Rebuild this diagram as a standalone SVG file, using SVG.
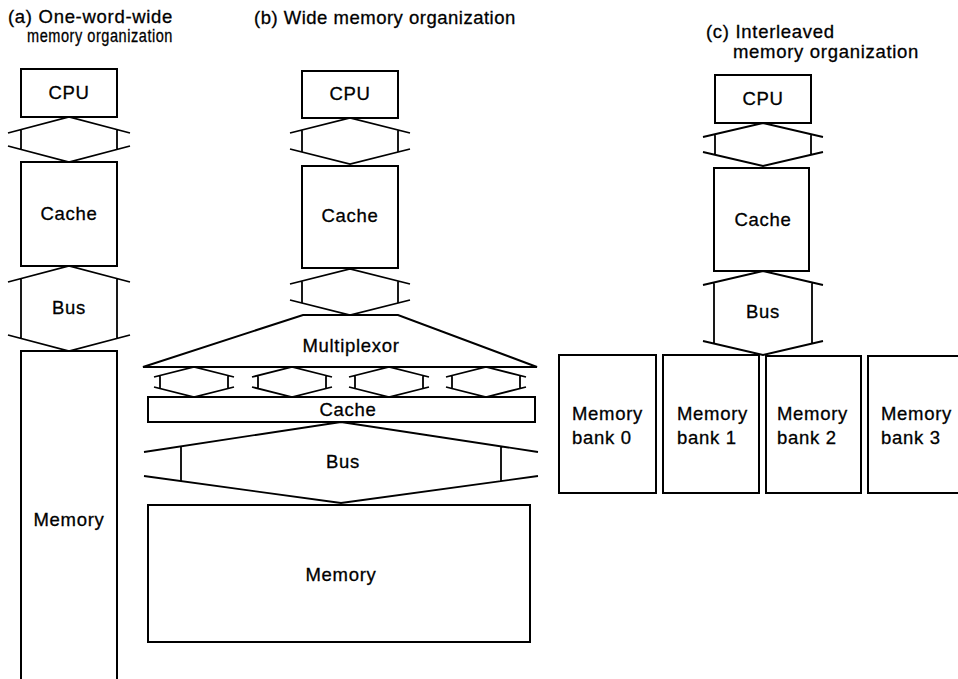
<svg xmlns="http://www.w3.org/2000/svg" width="958" height="679" viewBox="0 0 958 679">
  <style>
    .box { fill: #ffffff; stroke: #000000; stroke-width: 2; }
    .link { fill: none; stroke: #000000; stroke-width: 1.8; stroke-linejoin: miter; }
    text { font-family: "Liberation Sans", Arial, sans-serif; font-size: 18.5px; fill: #000000; stroke: #000000; stroke-width: 0.3px; letter-spacing: 0.7px; }
    .mid { text-anchor: middle; }
  </style>
  <rect width="958" height="679" fill="#ffffff"/>

  <!-- captions -->
  <g id="captions">
    <text x="8" y="23">(a) One-word-wide</text>
    <text x="27" y="42" textLength="146" lengthAdjust="spacingAndGlyphs">memory organization</text>
    <text x="254" y="24" textLength="262">(b) Wide memory organization</text>
    <text x="706" y="38">(c) Interleaved</text>
    <text x="733" y="58">memory organization</text>
  </g>

  <!-- (a) one-word-wide organization -->
  <g id="a-cpu"><rect class="box" x="21" y="69" width="96" height="48"/><text class="mid" x="69" y="99">CPU</text></g>
  <g id="a-cache"><rect class="box" x="21" y="162" width="96" height="104"/><text class="mid" x="69" y="220">Cache</text></g>
  <g id="a-memory"><rect class="box" x="21" y="351" width="96" height="340"/><text class="mid" x="69" y="526">Memory</text></g>
  <g id="a-bus-label"><text class="mid" x="69" y="314">Bus</text></g>

  <!-- (b) wide organization -->
  <g id="b-cpu"><rect class="box" x="302" y="71" width="96" height="47"/><text class="mid" x="350" y="100">CPU</text></g>
  <g id="b-cache"><rect class="box" x="302" y="166" width="96" height="102"/><text class="mid" x="350" y="222">Cache</text></g>
  <g id="b-mux"><path class="box" d="M303,315 L398,315 L537,367 L143,367 Z"/><text class="mid" x="351" y="352">Multiplexor</text></g>
  <g id="b-wide-cache"><rect class="box" x="148" y="397" width="387" height="25"/><text class="mid" x="348" y="416">Cache</text></g>
  <g id="b-memory"><rect class="box" x="148" y="505" width="382" height="137"/><text class="mid" x="341" y="581">Memory</text></g>
  <g id="b-bus-label"><text class="mid" x="343" y="468">Bus</text></g>

  <!-- (c) interleaved organization -->
  <g id="c-cpu"><rect class="box" x="715" y="75" width="96" height="48"/><text class="mid" x="763" y="105">CPU</text></g>
  <g id="c-cache"><rect class="box" x="714" y="168" width="95" height="103"/><text class="mid" x="763" y="226">Cache</text></g>
  <g id="c-bus-label"><text class="mid" x="763" y="318">Bus</text></g>
  <g id="c-bank0"><rect class="box" x="559" y="355" width="97" height="138"/><text x="572" y="420">Memory</text><text x="572" y="444">bank 0</text></g>
  <g id="c-bank1"><rect class="box" x="663" y="355" width="96" height="138"/><text x="677" y="420">Memory</text><text x="677" y="444">bank 1</text></g>
  <g id="c-bank2"><rect class="box" x="766" y="356" width="95" height="137"/><text x="777" y="420">Memory</text><text x="777" y="444">bank 2</text></g>
  <g id="c-bank3"><rect class="box" x="868" y="356" width="100" height="137"/><text x="881" y="420">Memory</text><text x="881" y="444">bank 3</text></g>

  <!-- double-headed bus connectors -->
  <g id="connectors" class="link">
    <!-- (a) CPU-Cache -->
    <path d="M8,133 L69,117 L130,133 M8,146 L69,162 L130,146 M21,129.6 V149.4 M117,129.6 V149.4"/>
    <!-- (a) Cache-Memory bus -->
    <path d="M8,282 L69,266 L130,282 M8,335 L69,351 L130,335 M21,278.6 V338.4 M117,278.6 V338.4"/>
    <!-- (b) CPU-Cache -->
    <path d="M290,133 L350,118 L410,133 M290,149 L350,164 L410,149 M302,130 V152 M398,130 V152"/>
    <!-- (b) Cache-Multiplexor -->
    <path d="M290,284 L350,269 L410,284 M290,300 L350,315 L410,300 M302,281 V303 M398,281 V303"/>
    <!-- (b) Multiplexor-wide cache, four words -->
    <path d="M154,377 L194,367 L234,377 M154,387 L194,397 L234,387 M160,375.5 V388.5 M228,375.5 V388.5"/>
    <path d="M252,377 L292,367 L332,377 M252,387 L292,397 L332,387 M258,375.5 V388.5 M326,375.5 V388.5"/>
    <path d="M349,377 L389,367 L429,377 M349,387 L389,397 L429,387 M355,375.5 V388.5 M423,375.5 V388.5"/>
    <path d="M446,377 L486,367 L526,377 M446,387 L486,397 L526,387 M452,375.5 V388.5 M520,375.5 V388.5"/>
    <!-- (b) wide bus -->
    <path d="M144,452 L341,422 L538,452 M144,476 L341,503 L538,476 M181,446.4 V481 M501,446.4 V481"/>
    <!-- (c) CPU-Cache -->
    <path d="M703,137 L763,123 L823,137 M703,152 L763,166 L823,152 M715,134.2 V154.8 M811,134.2 V154.8"/>
    <!-- (c) Cache-banks bus -->
    <path d="M703,285 L763,271 L823,285 M703,341 L763,355 L823,341 M714,282.4 V343.6 M812,282.4 V343.6"/>
  </g>
</svg>
